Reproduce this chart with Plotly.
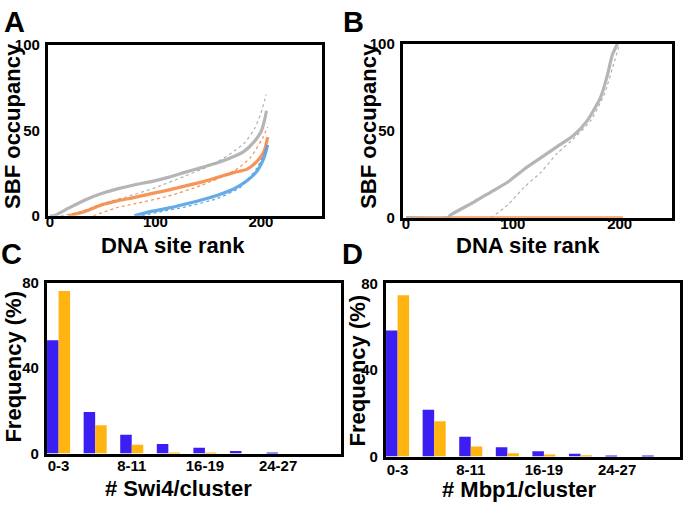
import plotly.graph_objects as go

# ---- panel A: SBF occupancy vs DNA site rank (main curve + dotted replicate)
a_gray_rank = [0, 3.5, 17.6, 33.3, 49, 64.8, 80.5, 96, 112, 127.7, 143.4, 159, 174.8, 184, 193.7, 200, 203, 205.3]
a_gray_occ = [0, 0, 4.5, 9.3, 13, 15.9, 18.2, 20, 22.5, 25.4, 28.2, 31, 34.8, 37.7, 43.4, 49, 54.7, 61.4]
a_gray_dot_rank = [10, 27, 50, 80, 100, 127, 143, 160, 175, 185, 194, 200, 205]
a_gray_dot_occ = [0, 2, 7, 12.5, 16.5, 23, 27, 32, 38, 43, 51, 60, 71]

a_orange_rank = [17.6, 33.3, 49, 64.8, 80.5, 96, 112, 127.7, 143.4, 159, 174.8, 187, 196.5, 203, 206.4]
a_orange_occ = [0, 2.6, 6.4, 8.9, 10.8, 13, 15, 17.4, 19.7, 22.5, 25.4, 27.3, 32, 37.7, 46]
a_orange_dot_rank = [41, 64.8, 80, 112, 143.4, 174.8, 190, 201.5, 206.4]
a_orange_dot_occ = [0, 5, 7, 11.5, 17.8, 26.3, 34, 45.3, 52]

a_blue_rank = [80, 96, 112, 127.7, 143.4, 159, 174.8, 187, 196.5, 203, 206.4]
a_blue_occ = [0, 2.6, 4.5, 6.8, 9.3, 12.1, 15.9, 20.6, 26.3, 34, 41.5]
a_blue_dot_rank = [87, 110, 127.7, 159, 181, 196.5, 205]
a_blue_dot_occ = [0, 3, 5.1, 10.2, 16.9, 28.2, 39.6]

# ---- panel B
b_gray_rank = [0, 39, 42, 64, 79.4, 95, 110.6, 126, 141.8, 157.3, 169.8, 182, 188.5, 193, 197.9]
b_gray_occ = [0, 0, 1.7, 9.2, 14.8, 20.4, 27.9, 34.4, 41, 47.6, 56, 69, 82, 93.4, 100]
b_gray_dot_rank = [79.4, 95, 110.6, 126, 141.8, 157.3, 173, 185.6, 195, 200]
b_gray_dot_occ = [0, 7.3, 17.6, 26, 37.2, 45.7, 56, 71, 89.7, 100]
b_orange_rank = [0, 203]
b_orange_occ = [0, 0]

# ---- panels C, D: cluster size histograms
categories = ["0-3", "4-7", "8-11", "12-15", "16-19", "20-23", "24-27", "28-31"]
tick_cats = ["0-3", "8-11", "16-19", "24-27"]
c_blue = [53, 19.4, 8.8, 4.5, 2.7, 1.2, 0.5, 0]
c_orange = [76, 13.3, 4.2, 0.5, 0.3, 0, 0, 0]
d_blue = [58.3, 21.6, 9.1, 4.3, 2.4, 1.3, 0.5, 0.3]
d_orange = [74.6, 16.3, 4.6, 1.5, 0.9, 0.6, 0, 0]

GRAY = "#a9a9a9"
ORANGE = "#f5843c"
LBLUE = "#4b9de3"
BAR_BLUE = "#3b1ef2"
BAR_ORANGE = "#ffb411"
FONT = "Liberation Sans"

W, H = 683, 508


def px(x0, x1):
    return [x0 / W, x1 / W]


def py(top, bottom):
    return [1 - bottom / H, 1 - top / H]


fig = go.Figure()


def curve(x, y, color, xa, ya, dotted=False):
    fig.add_trace(go.Scatter(
        x=x, y=y, mode="lines", xaxis=xa, yaxis=ya, showlegend=False,
        line=dict(color=color, width=1.2 if dotted else 3.2,
                  dash="dot" if dotted else "solid", shape="spline", smoothing=0.6),
        opacity=0.9 if dotted else 0.85,
    ))


curve(a_gray_dot_rank, a_gray_dot_occ, GRAY, "x", "y", True)
curve(a_orange_dot_rank, a_orange_dot_occ, ORANGE, "x", "y", True)
curve(a_blue_dot_rank, a_blue_dot_occ, LBLUE, "x", "y", True)
curve(a_gray_rank, a_gray_occ, GRAY, "x", "y")
curve(a_orange_rank, a_orange_occ, ORANGE, "x", "y")
curve(a_blue_rank, a_blue_occ, LBLUE, "x", "y")

curve(b_orange_rank, b_orange_occ, ORANGE, "x2", "y2")
curve(b_gray_dot_rank, b_gray_dot_occ, GRAY, "x2", "y2", True)
curve(b_gray_rank, b_gray_occ, GRAY, "x2", "y2")

for blue, orange, xa, ya in [(c_blue, c_orange, "x3", "y3"), (d_blue, d_orange, "x4", "y4")]:
    fig.add_trace(go.Bar(x=categories, y=blue, marker_color=BAR_BLUE, xaxis=xa, yaxis=ya,
                         showlegend=False, marker_line_width=0))
    fig.add_trace(go.Bar(x=categories, y=orange, marker_color=BAR_ORANGE, xaxis=xa, yaxis=ya,
                         showlegend=False, marker_line_width=0))

frame = dict(showline=True, mirror=True, linewidth=3, linecolor="black",
             showgrid=False, zeroline=False,
             tickfont=dict(family=FONT, size=15, color="black", weight="bold"))
ytick = dict(ticks="outside", ticklen=2, tickcolor="rgba(0,0,0,0)")

fig.update_layout(
    width=W, height=H, margin=dict(l=0, r=0, t=0, b=0),
    plot_bgcolor="white", paper_bgcolor="white",
    barmode="group", bargap=0.37, bargroupgap=0,
    xaxis=dict(domain=px(46, 321), range=[-2, 258], tickvals=[0, 100, 200],
               ticks="", ticklabelstandoff=-10, anchor="y", **frame),
    yaxis=dict(domain=py(37, 214), range=[0, 100], tickvals=[0, 50, 100],
               anchor="x", **ytick, **frame),
    xaxis2=dict(domain=px(402, 672), range=[-3, 249], tickvals=[0, 100, 200],
                ticks="", ticklabelstandoff=-10, anchor="y2", **frame),
    yaxis2=dict(domain=py(36, 216), range=[0, 100], tickvals=[0, 50, 100],
                anchor="x2", **ytick, **frame),
    xaxis3=dict(domain=px(45, 340), range=[-0.32, 7.72], type="category",
                tickvals=tick_cats, ticks="", ticklabelstandoff=-4,
                anchor="y3", **frame),
    yaxis3=dict(domain=py(283, 460), range=[0, 80], tickvals=[0, 40, 80],
                anchor="x3", **ytick, **frame),
    xaxis4=dict(domain=px(385, 680), range=[-0.32, 7.72], type="category",
                tickvals=tick_cats, ticks="", ticklabelstandoff=-3,
                anchor="y4", **frame),
    yaxis4=dict(domain=py(284, 463), range=[0, 80], tickvals=[0, 40, 80],
                anchor="x4", **ytick, **frame),
)


def label(text, x, y, size, angle=0):
    fig.add_annotation(text=text, x=x / W, y=1 - y / H, xref="paper", yref="paper",
                       showarrow=False, textangle=angle, xanchor="center", yanchor="middle",
                       font=dict(family=FONT, size=size, color="black", weight="bold"))


label("A", 13, 13, 29)
label("B", 353, 13, 29)
label("C", 10, 253, 29)
label("D", 352, 253, 29)

label("DNA site rank", 172, 245, 22)
label("SBF occupancy", 11, 121, 22, -90)
label("DNA site rank", 528, 245, 22)
label("SBF occupancy", 368, 121, 22, -90)
label("# Swi4/cluster", 177, 496, 22)
label("Frequency (%)", 12, 370, 22, -90)
label("# Mbp1/cluster", 519, 497, 22)
label("Frequency (%)", 357, 374, 22, -90)

# the page's default body margin would push the figure 8px off
fig.write_html("out.html", config={"displayModeBar": False},
               post_script="document.body.style.margin='0';")
